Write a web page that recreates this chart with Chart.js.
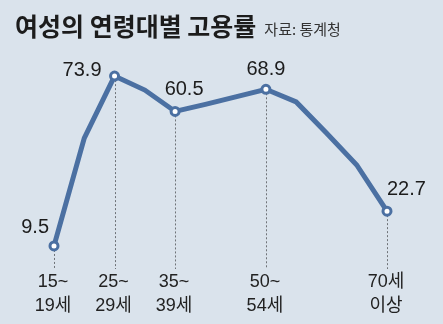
<!DOCTYPE html>
<html>
<head>
<meta charset="utf-8">
<script src="https://cdn.jsdelivr.net/npm/chart.js@4"></script>
<style>
  html, body { margin: 0; padding: 0; background: #dae3ec; }
  #wrap { width: 443px; height: 324px; position: relative; }
</style>
</head>
<body>
<div id="wrap"><canvas id="c" width="443" height="324"></canvas></div>
<script>
const titleText = '여성의 연령대별 고용률';
const sourceText = '자료: 통계청';
const categories = ['15~19세','20~24세','25~29세','30~34세','35~39세','40~44세','45~49세','50~54세','55~59세','60~64세','65~69세','70세 이상'];
const rates = [9.5, 50.4, 73.9, 68.6, 60.5, 63.2, 66.0, 68.9, 64.1, 52.3, 40.2, 22.7];
const tickLabels = [['15~','19세'], null, ['25~','29세'], null, ['35~','39세'], null, null, ['50~','54세'], null, null, null, ['70세','이상']];

const lineColor = '#4b70a2';
const labelPlacement = {
  0: { dx: -5, dy: -18, align: 'right' },
  2: { dx: -13, dy: -6, align: 'right' },
  4: { dx: 9, dy: -22, align: 'center' },
  7: { dx: 0, dy: -20, align: 'center' },
  11: { dx: 0, dy: -22, align: 'left' }
};
const shown = tickLabels.map(t => t !== null);

const overlay = {
  id: 'overlay',
  beforeDatasetsDraw(chart) {
    const ctx = chart.ctx;
    const meta = chart.getDatasetMeta(0);
    const yScale = chart.scales.y;
    const bottom = yScale.getPixelForValue(0) - 2;
    ctx.save();
    ctx.strokeStyle = '#6f7378';
    ctx.lineWidth = 1;
    ctx.setLineDash([2, 2]);
    meta.data.forEach((pt, i) => {
      if (!shown[i]) return;
      ctx.beginPath();
      ctx.moveTo(Math.round(pt.x) + 0.5, pt.y);
      ctx.lineTo(Math.round(pt.x) + 0.5, bottom);
      ctx.stroke();
    });
    ctx.restore();
  },
  afterDraw(chart) {
    const ctx = chart.ctx;
    const meta = chart.getDatasetMeta(0);
    ctx.save();
    // title
    ctx.fillStyle = '#1c1c1c';
    ctx.textBaseline = 'middle';
    ctx.textAlign = 'left';
    ctx.font = 'bold 25px "Noto Sans CJK KR"';
    ctx.fillText(titleText, 15, 26);
    const tw = ctx.measureText(titleText).width;
    ctx.font = '15px "Noto Sans CJK KR"';
    ctx.fillStyle = '#333';
    ctx.fillText(sourceText, 15 + tw + 8, 29);
    // value labels
    ctx.fillStyle = '#1c1c1c';
    ctx.font = '20px "Liberation Sans", Arial, sans-serif';
    meta.data.forEach((pt, i) => {
      const p = labelPlacement[i];
      if (!p) return;
      ctx.textAlign = p.align;
      ctx.textBaseline = 'middle';
      ctx.fillText(String(rates[i]), pt.x + p.dx, pt.y + p.dy);
    });
    // x labels
    ctx.font = '18px "Liberation Sans", "Noto Sans CJK KR", sans-serif';
    ctx.textAlign = 'center';
    ctx.fillStyle = '#222';
    meta.data.forEach((pt, i) => {
      const t = tickLabels[i];
      if (!t) return;
      t.forEach((line, k) => {
        ctx.fillText(line, pt.x - 1, 282 + k * 24);
      });
    });
    ctx.restore();
  }
};

new Chart(document.getElementById('c'), {
  type: 'line',
  data: {
    labels: categories,
    datasets: [{
      data: rates,
      borderColor: lineColor,
      borderWidth: 5,
      tension: 0,
      clip: false,
      pointRadius: shown.map(s => s ? 4 : 0),
      pointHoverRadius: shown.map(s => s ? 4 : 0),
      pointBackgroundColor: '#ffffff',
      pointBorderColor: lineColor,
      pointBorderWidth: 3
    }]
  },
  options: {
    responsive: false,
    animation: false,
    events: [],
    layout: { padding: { left: 54, right: 56, top: 60, bottom: 53 } },
    plugins: { legend: { display: false }, tooltip: { enabled: false }, title: { display: false } },
    scales: {
      x: { display: false, offset: false },
      y: { display: false, min: 0, max: 80 }
    }
  },
  plugins: [overlay]
});
</script>
</body>
</html>
